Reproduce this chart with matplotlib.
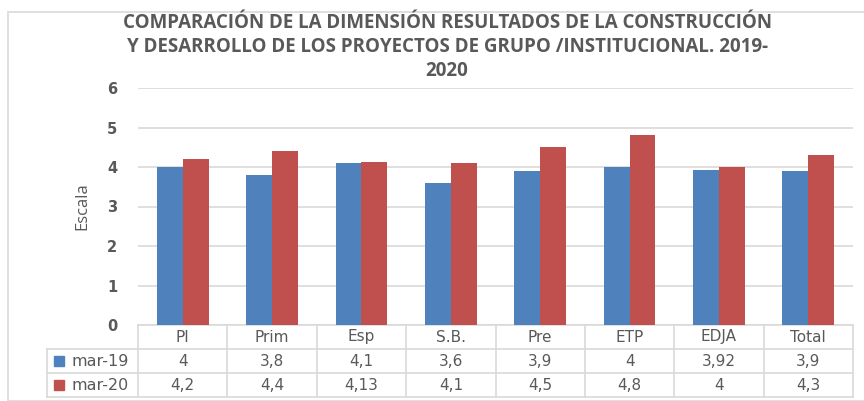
import matplotlib
matplotlib.use("Agg")
import matplotlib.pyplot as plt
from matplotlib.patches import Rectangle
from matplotlib.lines import Line2D

categories = ["PI", "Prim", "Esp", "S.B.", "Pre", "ETP", "EDJA", "Total"]
series_names = ["mar-19", "mar-20"]
mar19 = [4, 3.8, 4.1, 3.6, 3.9, 4, 3.92, 3.9]
mar20 = [4.2, 4.4, 4.13, 4.1, 4.5, 4.8, 4, 4.3]
mar19_labels = ["4", "3,8", "4,1", "3,6", "3,9", "4", "3,92", "3,9"]
mar20_labels = ["4,2", "4,4", "4,13", "4,1", "4,5", "4,8", "4", "4,3"]
yticks = [0, 1, 2, 3, 4, 5, 6]

title = ("COMPARACIÓN DE LA DIMENSIÓN RESULTADOS DE LA CONSTRUCCIÓN\n"
         "Y DESARROLLO DE LOS PROYECTOS DE GRUPO /INSTITUCIONAL. 2019-\n2020")

BLUE = "#4F81BD"
RED = "#C0504D"
GRAY = "#595959"
GRID = "#D9D9D9"

plt.rcParams['font.family'] = ['Open Sans', 'DejaVu Sans']
TF = ['DejaVu Sans']

W, H = 864, 401
fig = plt.figure(figsize=(W / 100, H / 100), dpi=100)

# outer border
fig.patches.append(Rectangle((8 / W, 0), 1.2, 1 - 12 / H, transform=fig.transFigure,
                             fill=False, edgecolor=GRID, lw=1.2))

L, R, T, B = 138, 853, 88, 325
ax = fig.add_axes([L / W, 1 - B / H, (R - L) / W, (B - T) / H])

x = list(range(len(categories)))
bw = 0.29
ax.bar([i - bw / 2 for i in x], mar19, width=bw, color=BLUE, zorder=3)
ax.bar([i + bw / 2 for i in x], mar20, width=bw, color=RED, zorder=3)

ax.set_xlim(-0.5, len(categories) - 0.5)
ax.set_ylim(0, 6)
ax.set_yticks(yticks)
ax.set_yticklabels([str(t) for t in yticks], fontsize=10.5, fontweight='bold', color=GRAY,
                   family=TF)
ax.tick_params(axis='y', length=0, pad=15)
ax.set_xticks([])
ax.yaxis.grid(True, color=GRID, lw=1.2, zorder=0)
for s in ax.spines.values():
    s.set_visible(False)
ax.set_ylabel("Escala", fontsize=12, color=GRAY, labelpad=12)

fig.text(447 / W, 1 - 47 / H, title, ha='center', va='center', fontsize=13.5,
         fontweight='bold', color=GRAY, linespacing=1.3)

# data table below axes
axh = B - T
rowh = 24 / axh
left_x = (47 - L) / (R - L)
n = len(categories)
tr = ax.transAxes
lw = 1.2
for k in range(3):
    y0 = -k * rowh
    x_start = 0 if k == 0 else left_x
    ax.add_line(Line2D([x_start, 1], [y0, y0], transform=tr, color=GRID, lw=lw, clip_on=False))
ax.add_line(Line2D([left_x, 1], [-3 * rowh, -3 * rowh], transform=tr, color=GRID, lw=lw, clip_on=False))
for j in range(n + 1):
    xv = j / n
    ax.add_line(Line2D([xv, xv], [0, -3 * rowh], transform=tr, color=GRID, lw=lw, clip_on=False))
ax.add_line(Line2D([left_x, left_x], [-rowh, -3 * rowh], transform=tr, color=GRID, lw=lw, clip_on=False))

for j, c in enumerate(categories):
    xc = (j + 0.5) / n
    ax.text(xc, -0.5 * rowh, c, transform=tr, ha='center', va='center', fontsize=11, color=GRAY, family=TF)
    ax.text(xc, -1.5 * rowh, mar19_labels[j], transform=tr, ha='center', va='center', fontsize=11, color=GRAY, family=TF)
    ax.text(xc, -2.5 * rowh, mar20_labels[j], transform=tr, ha='center', va='center', fontsize=11, color=GRAY, family=TF)

sq = 10 / (R - L)
sqh = 10 / axh
for k, (name, col) in enumerate(zip(series_names, [BLUE, RED])):
    yc = -(1.5 + k) * rowh
    ax.add_patch(Rectangle((left_x + 7 / (R - L), yc - sqh / 2), sq, sqh, transform=tr,
                           color=col, clip_on=False))
    ax.text(left_x + 24 / (R - L), yc, name, transform=tr, ha='left', va='center',
            fontsize=11.5, color=GRAY, family=TF)

fig.savefig("out.png", dpi=100)
